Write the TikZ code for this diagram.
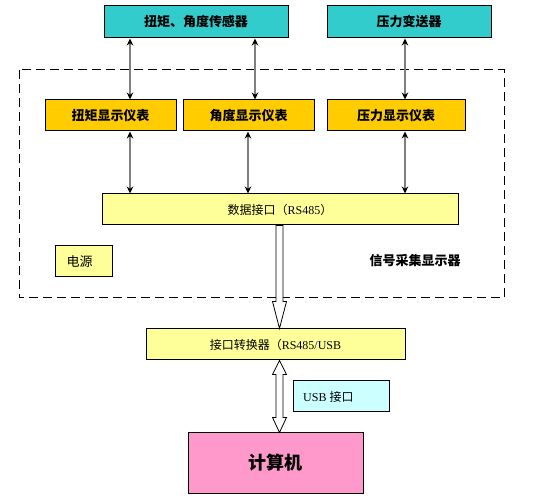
\documentclass[tikz,border=0pt]{standalone}
\usepackage{fontspec}
\setmainfont{Liberation Serif}
\newfontfamily\cjk{Noto Sans CJK SC}
\usetikzlibrary{arrows.meta,calc}
\definecolor{topc}{HTML}{33CCCC}
\definecolor{orc}{HTML}{FFCC00}
\definecolor{ylc}{HTML}{FFFF99}
\definecolor{lcy}{HTML}{CCFFFF}
\definecolor{pkc}{HTML}{FF99CC}
\definecolor{arrg}{HTML}{808080}
\tikzset{
  box/.style={draw=black,line width=1pt,inner sep=0pt,minimum height=31pt},
  topbox/.style={box,fill=topc,minimum height=32pt,font=\cjk\bfseries\fontsize{13}{13}\selectfont},
  orbox/.style={box,fill=orc,font=\cjk\bfseries\fontsize{13}{13}\selectfont},
  ylbox/.style={box,fill=ylc,font=\cjk\fontsize{12}{12}\selectfont},
  thinarr/.style={draw=arrg,line width=1.5pt,{Stealth[black,length=7pt,width=6.5pt]}-{Stealth[black,length=7pt,width=6.5pt]}},
  hollow/.style={draw=black,line width=0.8pt,fill=white,line join=miter},
  dashbox/.style={draw=black,line width=1pt,dash pattern=on 9pt off 5pt}
}
\begin{document}
\begin{tikzpicture}[x=1pt,y=-1pt]
\useasboundingbox (0,0) rectangle (558,500);
% dashed container
\draw[dashbox] (19,70) rectangle (504,298);
% top sensors
\node[topbox,minimum width=184pt] (t1) at (196,22) {扭矩、角度传感器};
\node[topbox,minimum width=164pt] (t2) at (409,22) {压力变送器};
% meters
\node[orbox,minimum width=131pt] (o1) at (110.5,115.5) {扭矩显示仪表};
\node[orbox,minimum width=131pt] (o2) at (248.5,115.5) {角度显示仪表};
\node[orbox,minimum width=138pt] (o3) at (396,115.5) {压力显示仪表};
% data interface
\node[ylbox,minimum width=356pt] (data) at (280,209.5) {数据接口（{\rmfamily RS485}）};
% power
\node[ylbox,minimum width=57pt,font=\cjk\fontsize{13}{13}\selectfont] (pw) at (83.5,261.5) {\hspace*{-8pt}电源};
\node[font=\cjk\bfseries\fontsize{13}{13}\selectfont,inner sep=0pt] (lab) at (415,261) {信号采集显示器};
% converter
\node[ylbox,minimum width=259pt] (conv) at (275.5,344.5) {接口转换器（{\rmfamily RS485/USB}};
% usb label
\node[ylbox,fill=lcy,minimum width=96pt] (usb) at (341,396.5) {};
\node[anchor=west,inner sep=0pt,font=\fontsize{12}{12}\selectfont] (usbt) at (303,396.5) {USB {\cjk 接口}};
% computer
\node[box,fill=pkc,minimum width=175pt,minimum height=60pt,font=\cjk\bfseries\fontsize{18}{18}\selectfont] (pc) at (275.5,463) {计算机};
% thin arrows
\draw[thinarr] (t1.south -| 130,0) -- (o1.north -| 130,0);
\draw[thinarr] (t1.south -| 255,0) -- (o2.north -| 255,0);
\draw[thinarr] (t2.south -| 405,0) -- (o3.north -| 405,0);
\draw[thinarr] (o1.south -| 130,0) -- (data.north -| 130,0);
\draw[thinarr] (o2.south -| 248,0) -- (data.north -| 248,0);
\draw[thinarr] (o3.south -| 405,0) -- (data.north -| 405,0);
% hollow arrow data -> converter
\coordinate (h1s) at (data.south -| 279.5,0);
\coordinate (h1e) at (conv.north -| 279.5,0);
\draw[hollow] ($(h1s)+(-3.5,0)$) -- ($(h1e)+(-3.5,-27)$) -- ($(h1e)+(-7,-27)$) -- (h1e)
  -- ($(h1e)+(7,-27)$) -- ($(h1e)+(3.5,-27)$) -- ($(h1s)+(3.5,0)$) -- cycle;
% hollow double arrow converter <-> computer
\coordinate (h2s) at (conv.south -| 279.5,0);
\coordinate (h2e) at (pc.north -| 279.5,0);
\draw[hollow] (h2s) -- ($(h2s)+(7,14)$) -- ($(h2s)+(3.5,14)$) -- ($(h2e)+(3.5,-15)$) -- ($(h2e)+(7,-15)$)
  -- (h2e) -- ($(h2e)+(-7,-15)$) -- ($(h2e)+(-3.5,-15)$) -- ($(h2s)+(-3.5,14)$) -- ($(h2s)+(-7,14)$) -- cycle;
\end{tikzpicture}
\end{document}
